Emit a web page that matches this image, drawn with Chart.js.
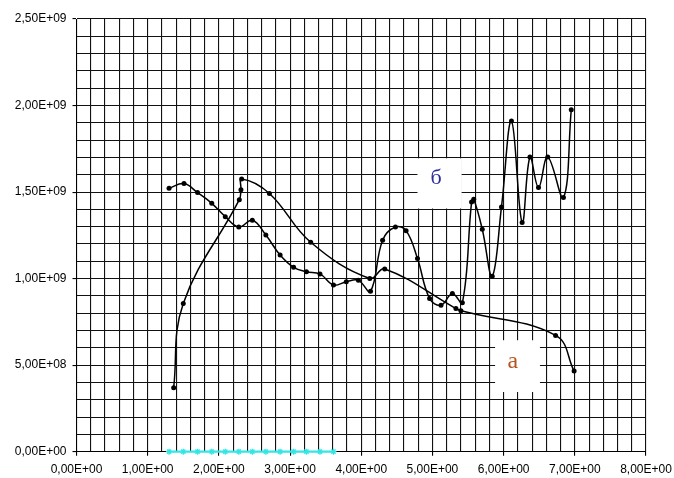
<!DOCTYPE html>
<html>
<head>
<meta charset="utf-8">
<script src="https://cdn.jsdelivr.net/npm/chart.js@4/dist/chart.umd.min.js"></script>
<style>
  html, body { margin: 0; padding: 0; background: #ffffff; }
  #wrap { width: 674px; height: 478px; }
</style>
</head>
<body>
<div id="wrap"><canvas id="chart" width="674" height="478"></canvas></div>
<script>
// Curve "а": rises steeply, peaks near x = 2.3, then falls off to x = 7
const curveAX = [1.365, 1.50, 2.287, 2.31, 2.32, 2.71, 3.29, 4.12, 4.33, 5.33, 5.40, 6.73, 6.99];
const curveAY = [0.370e9, 0.856e9, 1.456e9, 1.514e9, 1.576e9, 1.492e9, 1.210e9, 1.001e9, 1.056e9,
                 0.827e9, 0.814e9, 0.672e9, 0.466e9];

// Curve "б": slow decline, then growing oscillations
const curveBX = [1.30, 1.51, 1.70, 1.90, 2.09, 2.28, 2.47, 2.66, 2.86, 3.05, 3.23, 3.42, 3.61,
                 3.79, 3.96, 4.13, 4.30, 4.48, 4.63, 4.79, 4.96, 5.12, 5.28, 5.42, 5.55, 5.58,
                 5.70, 5.84, 5.97, 6.11, 6.26, 6.37, 6.49, 6.62, 6.84, 6.95];
const curveBY = [1.522e9, 1.549e9, 1.497e9, 1.435e9, 1.358e9, 1.298e9, 1.337e9, 1.252e9, 1.136e9,
                 1.065e9, 1.040e9, 1.027e9, 0.963e9, 0.982e9, 0.990e9, 0.927e9, 1.222e9, 1.298e9,
                 1.277e9, 1.116e9, 0.885e9, 0.846e9, 0.914e9, 0.860e9, 1.443e9, 1.458e9, 1.285e9,
                 1.014e9, 1.414e9, 1.910e9, 1.324e9, 1.702e9, 1.526e9, 1.702e9, 1.468e9, 1.976e9];

// Baseline series lying on the x axis
const baseX = [1.30, 1.50, 1.70, 1.90, 2.09, 2.28, 2.47, 2.66, 2.86, 3.05, 3.23, 3.42, 3.61];
const baseY = [0, 0, 0, 0, 0, 0, 0, 0, 0, 0, 0, 0, 0];

// Axis ranges and steps
const xRange = [0, 8];
const xStep = 0.2;
const xLabelStep = 1;
const yRange = [0, 2.5e9];
const yStep = 1e8;
const yLabelStep = 5e8;

// Curve captions in white boxes: box corners and text anchor in data units
const captionText = ['б', 'а'];
const captionBoxX = [[4.79, 5.41], [5.88, 6.51]];
const captionBoxY = [[1.405e9, 1.695e9], [0.345e9, 0.644e9]];
const captionAt = [[5.05, 1.578e9], [6.13, 0.52e9]];
const captionColor = ['#2a2a9c', '#b5541e'];
const captionSize = [22, 24];

// Spreadsheet-style scientific notation with decimal comma: 2,50E+09
function sci(v) {
  const [m, e] = Number(v).toExponential(2).split('e');
  const n = parseInt(e, 10);
  const ee = String(Math.abs(n)).padStart(2, '0');
  return m.replace('.', ',') + 'E' + (n < 0 ? '-' : '+') + ee;
}
function onStep(v, step) {
  const r = v / step;
  return Math.abs(r - Math.round(r)) < 1e-6;
}
function pts(xs, ys) {
  return xs.map((x, i) => ({ x: x, y: ys[i] }));
}

const captionPlugin = {
  id: 'captions',
  beforeDatasetsDraw(chart) {
    const { ctx, scales: { x, y } } = chart;
    ctx.save();
    captionText.forEach((t, i) => {
      const l = x.getPixelForValue(captionBoxX[i][0]);
      const r = x.getPixelForValue(captionBoxX[i][1]);
      const top = y.getPixelForValue(captionBoxY[i][1]);
      const bot = y.getPixelForValue(captionBoxY[i][0]);
      ctx.fillStyle = '#ffffff';
      ctx.fillRect(l, top, r - l, bot - top);
      ctx.fillStyle = captionColor[i];
      ctx.font = captionSize[i] + 'px "Liberation Serif", "DejaVu Serif", serif';
      ctx.textAlign = 'center';
      ctx.textBaseline = 'middle';
      ctx.fillText(t, x.getPixelForValue(captionAt[i][0]), y.getPixelForValue(captionAt[i][1]));
    });
    ctx.restore();
  }
};

const tickFont = { family: '"Liberation Sans", Arial, sans-serif', size: 12 };

new Chart(document.getElementById('chart'), {
  type: 'scatter',
  data: {
    datasets: [
      {
        label: 'а',
        data: pts(curveAX, curveAY),
        showLine: true,
        tension: 0.4,
        borderColor: '#000000',
        borderWidth: 1.5,
        pointRadius: 2.5,
        pointBackgroundColor: '#000000',
        pointBorderColor: '#000000',
        pointBorderWidth: 0
      },
      {
        label: 'б',
        data: pts(curveBX, curveBY),
        showLine: true,
        tension: 0.4,
        borderColor: '#000000',
        borderWidth: 1.5,
        pointRadius: 2.5,
        pointBackgroundColor: '#000000',
        pointBorderColor: '#000000',
        pointBorderWidth: 0
      },
      {
        label: 'base',
        data: pts(baseX, baseY),
        showLine: true,
        clip: false,
        tension: 0,
        borderColor: '#33e6e6',
        borderWidth: 2.2,
        pointStyle: 'star',
        pointRadius: 3,
        pointBorderColor: '#33e6e6',
        pointBackgroundColor: '#33e6e6',
        pointBorderWidth: 1.3
      }
    ]
  },
  options: {
    responsive: false,
    animation: false,
    events: [],
    layout: { padding: { left: 0, right: 28, top: 19, bottom: 0 } },
    plugins: { legend: { display: false }, tooltip: { enabled: false } },
    scales: {
      x: {
        type: 'linear',
        min: xRange[0],
        max: xRange[1],
        afterFit(s) { s.height = 26.3; s.paddingLeft = 0; s.paddingRight = 0; },
        border: { color: '#000000', width: 1 },
        grid: {
          color: '#111111',
          lineWidth: 1.1,
          tickLength: 4,
          tickColor: (c) => (c.tick && onStep(c.tick.value, xLabelStep)) ? '#000000' : 'rgba(0,0,0,0)'
        },
        ticks: {
          stepSize: xStep,
          maxTicksLimit: 100,
          autoSkip: false,
          maxRotation: 0,
          padding: 7,
          color: '#000000',
          font: tickFont,
          callback: (v) => onStep(v, xLabelStep) ? sci(v) : ''
        }
      },
      y: {
        type: 'linear',
        min: yRange[0],
        max: yRange[1],
        afterFit(s) { s.width = 76.5; s.paddingTop = 0; s.paddingBottom = 0; },
        border: { color: '#000000', width: 1 },
        grid: {
          color: '#111111',
          lineWidth: 1.1,
          tickLength: 4,
          tickColor: (c) => (c.tick && onStep(c.tick.value, yLabelStep)) ? '#000000' : 'rgba(0,0,0,0)'
        },
        ticks: {
          stepSize: yStep,
          maxTicksLimit: 100,
          autoSkip: false,
          padding: 6,
          color: '#000000',
          font: tickFont,
          callback: (v) => onStep(v, yLabelStep) ? sci(v) : ''
        }
      }
    }
  },
  plugins: [captionPlugin]
});
</script>
</body>
</html>
